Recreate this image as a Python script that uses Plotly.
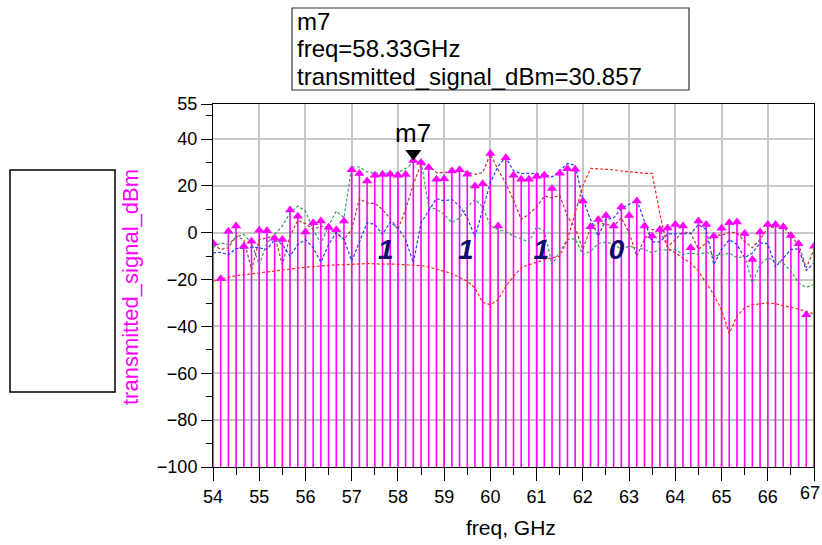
import numpy as np
import plotly.graph_objects as go

# Frequency sweep (GHz): 54 .. 67 GHz in 1/6 GHz steps
freq_ghz = np.linspace(54.0, 67.0, 79)

# transmitted_signal_dBm (magenta stems with triangle tips)
transmitted_dbm = [
    -4.3, -19.6, 0.7, 2.9, -5.7, -3.6, 1.1, 0.9, -2.3, -2.9,
    9.7, 7.1, 0.3, 4.3, 5.0, 2.4, 1.3, 5.0, 26.9, 25.3,
    22.1, 24.6, 24.9, 25.0, 24.6, 24.9, 30.857, 30.0, 27.9, 22.9,
    23.1, 26.4, 26.9, 25.0, 20.0, 21.0, 33.9, 2.9, 32.1, 24.6,
    22.9, 22.9, 24.0, 24.6, 18.9, 25.4, 27.4, 27.1, 13.6, 2.6,
    5.7, 7.4, 2.9, 11.0, 7.4, 13.6, 2.9, -1.4, 1.4, 2.0,
    3.6, 2.9, -6.4, 5.0, 3.6, -1.4, 1.9, 4.3, 4.6, -0.3,
    -11.4, 0.3, 3.6, 3.6, 2.6, -1.1, -4.7, -35.0, -5.7,
]

# Dashed traces
green_dbm = [
    -6.4, -4.3, -5.0, -1.7, -0.7, -4.3, -13.6, -4.3, -0.7, 2.9,
    8.6, 11.4, 9.3, 1.4, -4.6, 2.9, 9.3, 6.4, 28.1, 28.1,
    26.0, 25.4, 25.4, 25.7, 25.7, 27.4, 30.0, 30.7, 11.0, 10.0,
    7.9, 4.3, 6.4, 11.0, 14.3, 11.0, 3.0, 1.4, 0.5, -1.4,
    -2.5, -4.0, 2.5, 0.7, -13.6, -7.9, -2.9, -2.6, -9.3, -7.9,
    -4.6, -3.9, -5.0, -7.1, -5.7, -6.4, -7.1, -8.6, -7.1, -7.4,
    -7.1, -9.3, -8.6, -9.3, -8.3, -9.6, -9.6, -8.6, -10.7, -10.0,
    -21.4, -13.6, -10.7, -12.1, -12.9, -16.4, -21.4, -23.3, -22.1,
]
blue_dbm = [
    -8.6, -8.3, -9.4, -6.7, -6.7, -6.1, -6.4, -7.1, -2.9, -5.0,
    -10.0, -5.0, -2.9, -6.4, -12.6, -5.0, 0.0, -2.6, -12.1, -4.3,
    4.3, 3.6, -0.7, 4.6, 2.1, -2.9, -12.9, 4.3, 9.3, 14.6,
    13.6, 14.3, 11.4, 6.4, -1.7, 9.3, 21.4, 28.5, 32.1, 26.5,
    25.3, 25.4, 25.3, 24.7, 23.9, 26.4, 29.6, 28.9, 14.3, 5.7,
    -1.4, 5.7, 6.4, 10.4, 12.1, 14.0, 5.0, -3.9, -3.9, -0.5,
    -0.4, -0.4, -0.4, 3.6, 1.4, -13.6, -7.1, -2.9, -5.0, -10.7,
    -8.6, -4.3, -4.6, -14.6, -10.7, -7.1, -6.9, -16.0, -12.9,
]
brown_dbm = [
    -5.0, -7.1, -6.4, -1.4, -2.9, -15.7, -2.9, -2.1, -1.4, -13.6,
    -1.4, 5.3, 4.0, 1.4, 2.9, 2.1, 0.0, -2.9, 1.4, 14.6,
    12.6, 12.6, 10.0, 6.0, 1.4, 10.0, 20.7, 29.3, 28.6, 25.7,
    25.7, 26.1, 26.4, 26.0, 25.0, 25.7, 33.6, 27.0, 21.0, 14.0,
    5.7, 7.9, 11.1, 15.7, 15.0, 16.0, 7.0, 2.1, -7.1, 2.1,
    4.3, 3.6, 2.9, 6.4, 0.0, -10.0, -2.6, 1.4, 1.1, -6.0,
    -2.9, 0.3, 0.0, -7.1, -4.3, -0.7, -1.1, 0.3, 0.0, -3.6,
    -6.4, -2.9, 2.1, 2.6, 2.9, -1.4, -5.0, -15.0, -7.1,
]
red_dbm = [
    -20.7, -19.7, -19.0, -18.3, -17.9, -17.4, -16.9, -16.4, -16.0, -15.7,
    -15.4, -15.0, -14.7, -14.4, -14.1, -14.0, -13.7, -13.6, -13.3, -13.3,
    -13.1, -13.3, -13.4, -13.3, -13.4, -13.6, -13.7, -14.0, -14.6, -15.4,
    -16.4, -17.4, -18.9, -20.7, -23.6, -29.7, -30.7, -28.6, -22.9, -18.6,
    -15.0, -13.6, -12.6, -11.4, -10.7, -10.0, -3.0, 8.0, 20.0, 27.5,
    27.4, 27.1, 26.9, 26.4, 26.0, 25.7, 25.4, 25.4, 8.0, -6.5,
    -8.6, -10.7, -12.9, -16.4, -21.4, -26.4, -32.9, -43.0, -35.7, -32.0,
    -30.7, -30.3, -30.0, -30.3, -31.0, -31.7, -32.6, -33.6, -34.6,
]

# Decoded bit labels drawn inside the plot
bit_labels = ["1", "1", "1", "0"]
bit_freqs = [57.74, 59.47, 61.10, 62.73]
bit_level = -8.3

# Marker m7
m7_index = 26
m7_name = "m7"

x_ticks = list(range(54, 68))
x_minor = [v + 0.5 for v in range(54, 67)]
y_ticks = [55, 40, 20, 0, -20, -40, -60, -80, -100]
y_minor = [50, 30, 10, -10, -30, -50, -70, -90]
y_floor = -100
y_top = 55

# Figure geometry (px)
W, H = 822, 545
ML, MR, MT, MB = 213, 8, 104, 78
plot_w = W - ML - MR
plot_h = H - MT - MB


def paper_x(px):
    return (px - ML) / plot_w


def paper_y(py):
    return (H - MB - py) / plot_h


FONT = "Liberation Sans, Arial, sans-serif"
MAGENTA = "#FF00FF"
TICK_SIZE = 18

fig = go.Figure()

# Stems from the floor of the axis up to each value
stem_x, stem_y = [], []
for f, v in zip(freq_ghz, transmitted_dbm):
    stem_x += [f, f, None]
    stem_y += [y_floor, v, None]
fig.add_trace(go.Scatter(x=stem_x, y=stem_y, mode="lines",
                         line=dict(color=MAGENTA, width=1.6),
                         hoverinfo="skip", showlegend=False))

dash = "3px,2px"
for series, color in [(green_dbm, "#3F9B62"), (brown_dbm, "#B23A3A"),
                      (blue_dbm, "#1D3DFF"), (red_dbm, "#FF2424")]:
    fig.add_trace(go.Scatter(x=freq_ghz, y=series, mode="lines",
                             line=dict(color=color, width=1.2, dash=dash),
                             showlegend=False))

fig.add_trace(go.Scatter(x=freq_ghz, y=transmitted_dbm, mode="markers",
                         marker=dict(symbol="triangle-up", size=9, color=MAGENTA),
                         showlegend=False))

# Bit labels
fig.add_trace(go.Scatter(x=bit_freqs, y=[bit_level] * len(bit_freqs), mode="text",
                         text=[f"<b><i>{b}</i></b>" for b in bit_labels],
                         textfont=dict(family=FONT, size=28, color="#0B0B70"),
                         showlegend=False))

# m7 marker: downward triangle with its apex on the data point
units_per_px = (y_top - y_floor) / plot_h
tri_size = 14
m7_f = freq_ghz[m7_index]
m7_v = transmitted_dbm[m7_index]
fig.add_trace(go.Scatter(x=[m7_f], y=[m7_v + (tri_size / 2) * units_per_px],
                         mode="markers",
                         marker=dict(symbol="triangle-down", size=tri_size, color="black"),
                         showlegend=False))
fig.add_annotation(x=m7_f, y=m7_v, text=m7_name, showarrow=False,
                   xanchor="center", yanchor="bottom", yshift=11,
                   font=dict(family=FONT, size=26, color="black"))

axis_common = dict(
    showgrid=True, gridcolor="#C8C8C8", gridwidth=1.5,
    showline=True, linecolor="black", linewidth=1, mirror=True,
    ticks="outside", tickcolor="black", tickwidth=1,
    tickfont=dict(family=FONT, size=TICK_SIZE, color="black"),
    zeroline=False, automargin=False,
)

# The last frequency label sits on the figure edge; it is placed separately
x_ticktext = [str(v) for v in x_ticks[:-1]] + [""]

fig.update_layout(
    width=W, height=H,
    margin=dict(l=ML, r=MR, t=MT, b=MB, pad=0, autoexpand=False),
    paper_bgcolor="white", plot_bgcolor="white",
    xaxis=dict(range=[54, 67], tickmode="array", tickvals=x_ticks, ticktext=x_ticktext,
               ticklen=13,
               minor=dict(tickmode="array", tickvals=x_minor, ticklen=7,
                          ticks="outside", tickcolor="black", showgrid=False),
               **axis_common),
    yaxis=dict(range=[y_floor, y_top], tickmode="array", tickvals=y_ticks, ticklen=11,
               minor=dict(tickmode="array", tickvals=y_minor, ticklen=6,
                          ticks="outside", tickcolor="black", showgrid=False),
               **axis_common),
    showlegend=False,
)

fig.add_annotation(xref="paper", yref="paper", x=paper_x(W - 1), y=paper_y(493),
                   text=str(x_ticks[-1]), showarrow=False, xanchor="right", yanchor="middle",
                   borderpad=0, font=dict(family=FONT, size=TICK_SIZE, color="black"))

# Marker readout box
fig.add_shape(type="rect", xref="paper", yref="paper",
              x0=paper_x(292), x1=paper_x(689), y0=paper_y(90), y1=paper_y(8),
              line=dict(color="#333333", width=1.2), fillcolor="white", layer="above")
readout = [m7_name, f"freq={m7_f:.2f}GHz", f"transmitted_signal_dBm={m7_v:.3f}"]
for i, line in enumerate(readout):
    fig.add_annotation(xref="paper", yref="paper", x=paper_x(295), y=paper_y(22 + 27 * i),
                       xanchor="left", yanchor="middle", showarrow=False, text=line,
                       font=dict(family=FONT, size=24, color="black"))

# Empty legend frame on the left
fig.add_shape(type="rect", xref="paper", yref="paper",
              x0=paper_x(10), x1=paper_x(115), y0=paper_y(392), y1=paper_y(170),
              line=dict(color="black", width=1.5), fillcolor="white")

# Axis titles
fig.add_annotation(xref="paper", yref="paper", x=paper_x(130), y=paper_y(287),
                   text="transmitted_signal_dBm", textangle=-90, showarrow=False,
                   xanchor="center", yanchor="middle",
                   font=dict(family=FONT, size=22, color=MAGENTA))
fig.add_annotation(xref="paper", yref="paper", x=paper_x(511), y=paper_y(527),
                   text="freq, GHz", showarrow=False, xanchor="center", yanchor="middle",
                   font=dict(family=FONT, size=21, color="black"))

fig.write_html("out.html")
